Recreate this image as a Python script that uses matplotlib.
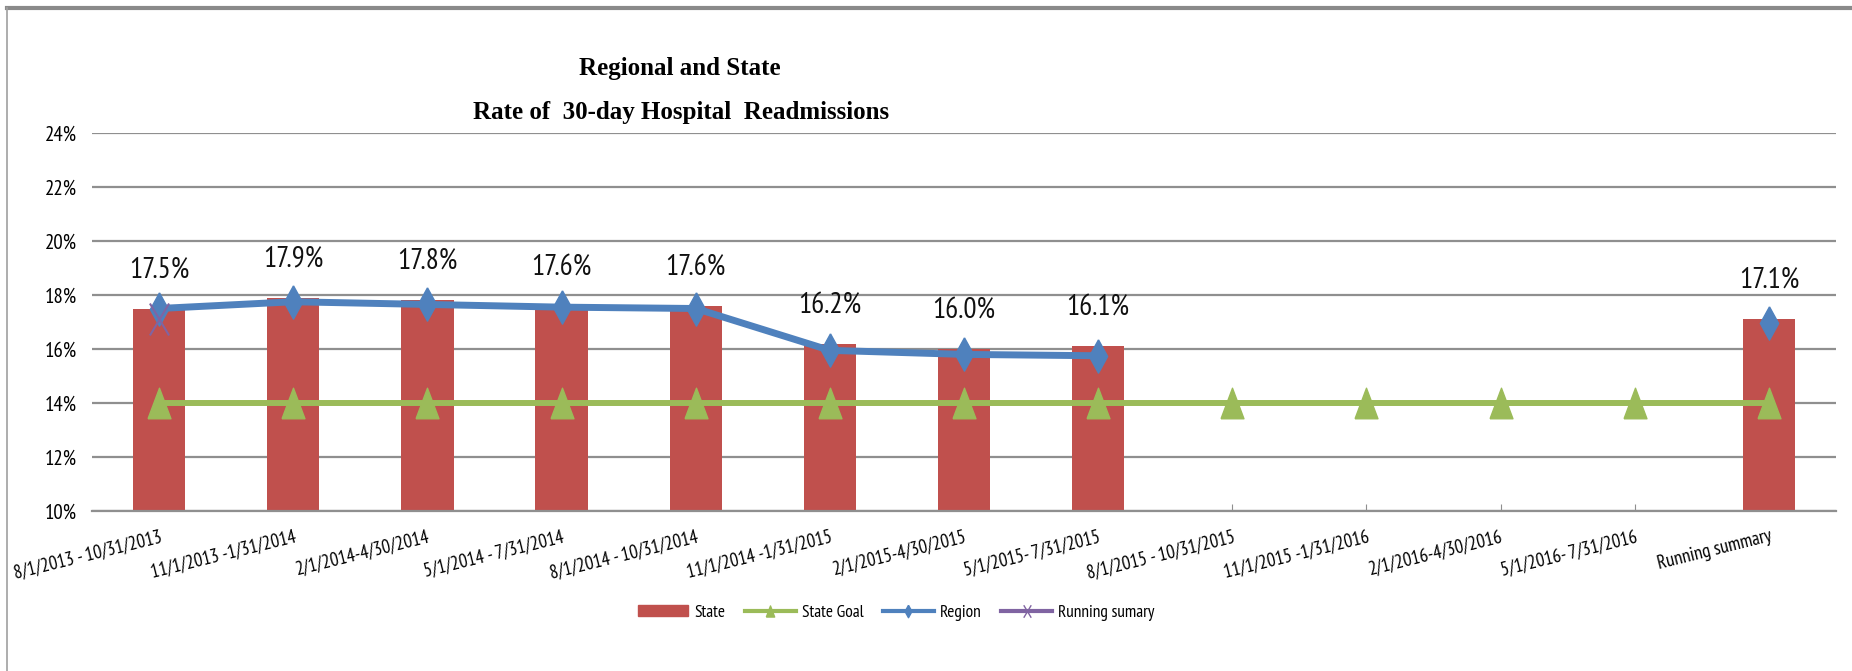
import numpy as np
import matplotlib.pyplot as plt
from matplotlib.lines import Line2D
from matplotlib.patches import Patch
from matplotlib.path import Path

plt.rcParams['font.family'] = ['PT Sans Narrow', 'Carlito', 'DejaVu Sans']

# data (values in percent)
periods = ["8/1/2013 - 10/31/2013", "11/1/2013 -1/31/2014", "2/1/2014-4/30/2014",
           "5/1/2014 - 7/31/2014", "8/1/2014 - 10/31/2014", "11/1/2014 -1/31/2015",
           "2/1/2015-4/30/2015", "5/1/2015- 7/31/2015", "8/1/2015 - 10/31/2015",
           "11/1/2015 -1/31/2016", "2/1/2016-4/30/2016", "5/1/2016- 7/31/2016",
           "Running summary"]
nan = np.nan
state = [17.5, 17.9, 17.8, 17.6, 17.6, 16.2, 16.0, 16.1, nan, nan, nan, nan, 17.1]
state_goal = [14.0, 14.0, 14.0, 14.0, 14.0, 14.0, 14.0, 14.0, 14.0, 14.0, 14.0, 14.0, 14.0]
region = [17.5, 17.75, 17.65, 17.55, 17.5, 15.95, 15.8, 15.75, nan, nan, nan, nan, 16.95]
running = [17.1, nan, nan, nan, nan, nan, nan, nan, nan, nan, nan, nan, nan]

RED = '#C0504D'
GREEN = '#9BBB59'
BLUE = '#4F81BD'
PURPLE = '#8064A2'
GRID = '#8f8f8f'

# narrow markers, like the stretched excel export
diamond = [(0, 1), (0.55, 0), (0, -1), (-0.55, 0), (0, 1)]
triangle = [(-0.75, -1), (0.75, -1), (0, 1), (-0.75, -1)]
cross = Path([(-0.6, -1), (0.6, 1), (-0.6, 1), (0.6, -1)],
             [Path.MOVETO, Path.LINETO, Path.MOVETO, Path.LINETO])

fig = plt.figure(figsize=(18.52, 6.71), dpi=100)
ax = fig.add_axes([92 / 1852, 1 - 511 / 671, (1836 - 92) / 1852, (511 - 133) / 671])

x = np.arange(len(periods))
ax.bar(x, state, width=0.39, color=RED, zorder=2)
ax.plot(x, state_goal, color=GREEN, lw=4.3, marker=triangle, ms=22, zorder=3)
ax.plot(x, region, color=BLUE, lw=5, marker=diamond, ms=24, zorder=4)
ax.plot(x, running, ls='none', marker=cross, ms=23, mec=PURPLE, mew=1.5, zorder=5)

for xi, v in zip(x, state):
    if not np.isnan(v):
        ax.annotate(f"{v:.1f}%", (xi, v), xytext=(0, 28), textcoords='offset points',
                    ha='center', va='center', fontsize=21, color='#111111')

ax.set_xlim(-0.5, len(periods) - 0.5)
ax.set_ylim(10, 24)
ax.set_yticks(np.arange(10, 25, 2))
ax.set_yticklabels([f"{t}%" for t in range(10, 25, 2)], fontsize=15)
ax.yaxis.grid(True, color=GRID, lw=1.6, zorder=0)
ax.set_axisbelow(True)
ax.tick_params(axis='y', length=0, pad=11)

ax.set_xticks(x)
ax.set_xticklabels(periods, rotation=14, ha='right', va='top', rotation_mode='anchor', fontsize=13.5)
ax.tick_params(axis='x', direction='in', length=5, color=GRID, pad=12)

for s in ['left', 'top', 'right']:
    ax.spines[s].set_visible(False)
ax.spines['bottom'].set_color(GRID)
ax.spines['bottom'].set_linewidth(1.6)

title_font = dict(ha='center', va='center', fontsize=18, fontweight='bold',
                  family=['Liberation Serif', 'DejaVu Serif'])
fig.text(680 / 1852, 1 - 68 / 671, "Regional and State", **title_font)
fig.text(681 / 1852, 1 - 113 / 671, "Rate of  30-day Hospital  Readmissions", **title_font)

handles = [
    Patch(color=RED),
    Line2D([], [], color=GREEN, lw=3, marker=triangle, ms=8),
    Line2D([], [], color=BLUE, lw=3, marker=diamond, ms=9),
    Line2D([], [], color=PURPLE, lw=3, marker=cross, ms=9, mec=PURPLE, mew=1),
]
labels = ["State", "State Goal", "Region", "Running sumary"]
fig.legend(handles, labels, loc='center', bbox_to_anchor=(896 / 1852, 1 - 613 / 671),
           ncol=4, frameon=False, fontsize=12.5, handlelength=2.9, handleheight=0.6,
           handletextpad=0.35, columnspacing=1.15)

# chart border remnants
fig.add_artist(Line2D([7 / 1852, 1], [1 - 8 / 671, 1 - 8 / 671], transform=fig.transFigure,
                      color='#8a8a8a', lw=3))
fig.add_artist(Line2D([7 / 1852, 7 / 1852], [0, 1 - 8 / 671], transform=fig.transFigure,
                      color='#a0a0a0', lw=1.2))

fig.savefig('out.png', dpi=100)
